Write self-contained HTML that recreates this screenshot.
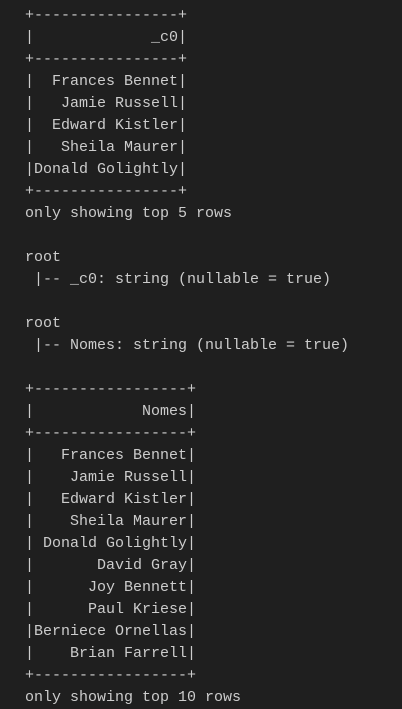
<!DOCTYPE html>
<html><head><meta charset="utf-8"><style>
html,body{margin:0;padding:0;background:#1f1f1f;width:402px;height:708px;overflow:hidden}
pre{margin:0;position:absolute;left:25px;top:5px;font-family:"Liberation Mono",monospace;font-size:15px;line-height:22px;color:#cccccc}
</style></head><body><pre>+----------------+
|             _c0|
+----------------+
|  Frances Bennet|
|   Jamie Russell|
|  Edward Kistler|
|   Sheila Maurer|
|Donald Golightly|
+----------------+
only showing top 5 rows

root
 |-- _c0: string (nullable = true)

root
 |-- Nomes: string (nullable = true)

+-----------------+
|            Nomes|
+-----------------+
|   Frances Bennet|
|    Jamie Russell|
|   Edward Kistler|
|    Sheila Maurer|
| Donald Golightly|
|       David Gray|
|      Joy Bennett|
|      Paul Kriese|
|Berniece Ornellas|
|    Brian Farrell|
+-----------------+
only showing top 10 rows</pre></body></html>
